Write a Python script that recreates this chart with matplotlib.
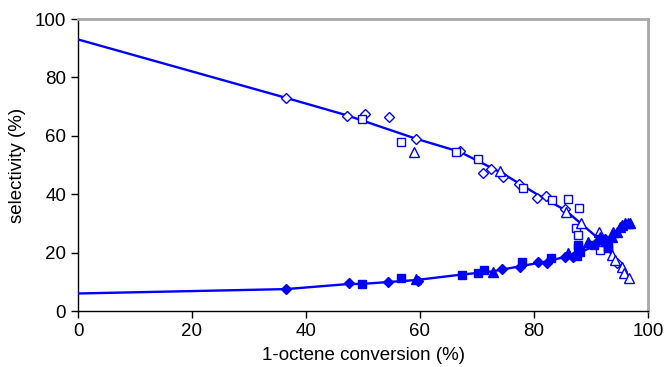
import matplotlib
matplotlib.use("Agg")
import matplotlib.pyplot as plt

plt.rcParams['font.family'] = ['Liberation Sans', 'DejaVu Sans']

# Model curves
upper_line_x = [0, 36.5, 47.2, 59.3, 67.0, 74.6, 80.5, 85.5, 88.2, 91.5, 94.0, 97.0]
upper_line_y = [93.0, 73.0, 67.0, 59.0, 54.5, 47.0, 40.0, 34.5, 30.0, 24.5, 18.5, 11.0]
lower_line_x = [0, 36.5, 47.2, 50.0, 59.3, 67.4, 72.5, 77.5, 82.3, 86.0, 88.0, 91.5, 94.0, 97.0]
lower_line_y = [6.0, 7.5, 9.2, 9.3, 10.6, 12.5, 13.5, 15.3, 17.0, 18.8, 20.0, 23.0, 26.5, 30.0]

# Upper (open) series
open_diam_x = [36.5, 47.2, 50.3, 54.6, 59.3, 67.0, 71.1, 72.5, 74.6, 77.4, 80.5, 82.1, 85.4, 92.0, 94.5]
open_diam_y = [73.0, 66.9, 67.6, 66.6, 59.0, 54.9, 47.1, 48.6, 45.9, 43.4, 38.6, 39.4, 34.8, 23.0, 16.5]
open_sq_x = [49.8, 56.7, 66.3, 70.2, 78.1, 83.2, 86.0, 87.9, 87.4, 87.7, 91.6, 93.0]
open_sq_y = [65.9, 58.0, 54.3, 52.2, 42.0, 37.9, 38.2, 35.2, 28.3, 25.9, 20.8, 21.5]
open_tri_x = [58.9, 74.0, 85.6, 88.2, 91.4, 93.7, 94.2, 95.4, 95.8, 96.7]
open_tri_y = [54.6, 48.1, 33.8, 30.0, 27.0, 19.1, 17.4, 15.0, 13.0, 11.3]

# Lower (filled) series
fill_diam_x = [36.5, 47.5, 54.4, 59.6, 74.4, 77.5, 80.7, 82.3, 85.4, 86.8, 91.0, 92.5]
fill_diam_y = [7.5, 9.5, 9.9, 10.4, 14.5, 15.0, 16.7, 16.4, 18.4, 18.4, 23.5, 24.5]
fill_sq_x = [49.8, 56.7, 67.4, 70.2, 71.2, 77.9, 83.0, 87.5, 87.7, 87.7, 88.0, 90.5, 91.5, 92.5, 93.0]
fill_sq_y = [9.3, 11.4, 12.4, 13.0, 14.0, 16.7, 18.1, 18.8, 21.5, 22.5, 20.1, 22.5, 24.5, 23.5, 22.0]
fill_tri_x = [59.3, 72.8, 86.0, 89.5, 91.5, 93.7, 93.9, 94.6, 95.1, 95.4, 96.0, 96.5, 96.8]
fill_tri_y = [10.8, 13.3, 19.8, 23.5, 25.5, 25.3, 27.0, 27.0, 28.7, 29.4, 30.0, 30.0, 30.0]

x_ticks = [0, 20, 40, 60, 80, 100]
y_ticks = [0, 20, 40, 60, 80, 100]

blue = '#0000FF'

fig = plt.figure(figsize=(6.66, 3.67), dpi=100)
ax = fig.add_axes([78/666, 1-311/367, (648-78)/666, (311-19)/367])

ax.plot(upper_line_x, upper_line_y, color=blue, lw=1.7, zorder=3)
ax.plot(lower_line_x, lower_line_y, color=blue, lw=1.7, zorder=3)

mew = 1.0
ax.plot(open_diam_x, open_diam_y, 'D', ms=5.3, mfc='white', mec=blue, mew=mew, ls='none', zorder=4)
ax.plot(open_sq_x, open_sq_y, 's', ms=6.2, mfc='white', mec=blue, mew=mew, ls='none', zorder=4)
ax.plot(open_tri_x, open_tri_y, '^', ms=6.8, mfc='white', mec=blue, mew=mew, ls='none', zorder=4)
ax.plot(fill_diam_x, fill_diam_y, 'D', ms=5.3, mfc=blue, mec=blue, ls='none', zorder=4)
ax.plot(fill_sq_x, fill_sq_y, 's', ms=6.2, mfc=blue, mec=blue, ls='none', zorder=4)
ax.plot(fill_tri_x, fill_tri_y, '^', ms=6.8, mfc=blue, mec=blue, ls='none', zorder=4)

ax.set_xlim(0, 100)
ax.set_ylim(0, 100)
ax.set_xticks(x_ticks)
ax.set_yticks(y_ticks)
ax.tick_params(axis='both', direction='out', length=5, width=1, labelsize=13.5, colors='black')
ax.set_xlabel('1-octene conversion (%)', fontsize=13.5, labelpad=5)
ax.set_ylabel('selectivity (%)', fontsize=13.5, labelpad=6)

for s in ['left', 'bottom']:
    ax.spines[s].set_color('black')
    ax.spines[s].set_linewidth(1.0)
for s in ['top', 'right']:
    ax.spines[s].set_color('#A8A8A8')
    ax.spines[s].set_linewidth(2.0)

fig.savefig('out.png', dpi=100)
